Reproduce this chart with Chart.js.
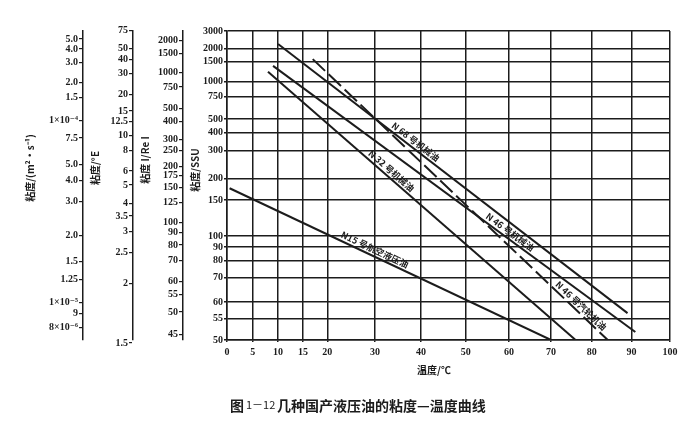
<!DOCTYPE html>
<html lang="zh">
<head>
<meta charset="UTF-8">
<title>几种国产液压油的粘度-温度曲线</title>
<script src="https://cdn.jsdelivr.net/npm/chart.js"></script>
<style>
  body { margin: 0; background: #fff; }
</style>
</head>
<body>
<canvas id="chart" width="697" height="428"></canvas>
<script>
  // ---- tick values of every scale ----
  const tempTicks = [0, 5, 10, 15, 20, 30, 40, 50, 60, 70, 80, 90, 100];
  const ssuTicks = [3000, 2000, 1500, 1000, 750, 500, 400, 300, 200, 150, 100, 90, 80, 70, 60, 55, 50];
  const m2sTicks = [5e-4, 4e-4, 3e-4, 2e-4, 1.5e-4, 1e-4, 7.5e-5, 5e-5, 4e-5, 3e-5, 2e-5, 1.5e-5, 1.25e-5, 1e-5, 9e-6, 8e-6];
  const m2sLabels = ['5.0', '4.0', '3.0', '2.0', '1.5', '1×10⁻⁴', '7.5', '5.0', '4.0', '3.0', '2.0', '1.5', '1.25', '1×10⁻⁵', '9', '8×10⁻⁶'];
  const englerTicks = [75, 50, 40, 30, 20, 15, 12.5, 10, 8, 6, 5, 4, 3.5, 3, 2.5, 2, 1.5];
  const redwoodTicks = [2000, 1500, 1000, 750, 500, 400, 300, 250, 200, 175, 150, 125, 100, 90, 80, 70, 60, 55, 50, 45];

  // ---- oils: temperature (°C) and viscosity (SSU) at the two ends of each line ----
  const oilNames = ['N 68 号机械油', 'N 46 号机械油', 'N 46 号汽轮机油', 'N 32 号机械油', 'N15 号航空液压油'];
  const n68Temp = [10, 89],  n68Ssu = [2220, 56.5];
  const n46Temp = [9, 91],   n46Ssu = [1380, 51.7];
  const n46tTemp = [17, 84], n46tSsu = [1590, 50];
  const n32Temp = [8, 76],   n32Ssu = [1220, 50];
  const n15Temp = [0.5, 70], n15Ssu = [175, 50];
  // where each line's name starts (°C)
  const noteTemps = [33, 54, 70.4, 28, 22.4];

  // ---- ASTM style transforms ----
  const xOf = t => Math.log10(t + 273.15);
  const lOf = v => Math.log10(Math.log10(v + 0.7));          // v in mm²/s
  function ssuFromCst(v) {
    return 4.6324 * v + (1 + 0.03264 * v) / ((3930.2 + 262.7 * v + 23.97 * v * v + 1.646 * v * v * v) * 1e-5);
  }
  function cstFromSsu(s) {
    let lo = 1, hi = s;
    for (let i = 0; i < 60; i++) {
      const mid = (lo + hi) / 2;
      if (ssuFromCst(mid) < s) lo = mid; else hi = mid;
    }
    return (lo + hi) / 2;
  }
  const yOfSsu = s => lOf(cstFromSsu(s));
  const cstFromEngler = e => 7.31 * e - 6.31 / e;
  const cstFromRedwood = r => 0.26 * r - 179 / r;

  const yMin = yOfSsu(50), yMax = yOfSsu(3000);
  // the printed side scales sit slightly higher than the grid
  const m2sShift = 0.005, englerShift = 0.012;

  const series = [
    { name: oilNames[0], temp: n68Temp, ssu: n68Ssu, dash: [], note: noteTemps[0] },
    { name: oilNames[1], temp: n46Temp, ssu: n46Ssu, dash: [], note: noteTemps[1] },
    { name: oilNames[2], temp: n46tTemp, ssu: n46tSsu, dash: [17, 5], note: noteTemps[2] },
    { name: oilNames[3], temp: n32Temp, ssu: n32Ssu, dash: [], note: noteTemps[3] },
    { name: oilNames[4], temp: n15Temp, ssu: n15Ssu, dash: [], note: noteTemps[4] }
  ];

  const ink = '#1c1c1c';
  const tickFont = { family: '"Liberation Serif", "DejaVu Serif", serif', size: 10, weight: 'bold' };
  const cjk = '"Noto Sans CJK SC", sans-serif';

  function setTicks(values, toL, labels) {
    return scale => {
      scale.ticks = values.map((v, i) => ({ value: toL(v), text: labels ? labels[i] : String(v) }));
    };
  }
  function sideAxis(values, toL, labels, shift, weight, width) {
    return {
      type: 'linear', position: 'left', weight: weight,
      min: yMin - shift, max: yMax - shift,
      afterBuildTicks: setTicks(values, toL, labels),
      afterFit: s => { s.width = width; },
      grid: { drawOnChartArea: false, color: ink, lineWidth: 1.2, tickLength: 4 },
      border: { color: ink, width: 1.5 },
      ticks: { autoSkip: false, padding: 1, color: ink, font: tickFont, callback: (v, i, t) => t[i].text }
    };
  }

  // line names written along the lines
  const lineNotes = {
    id: 'lineNotes',
    afterDatasetsDraw(chart) {
      const { ctx, scales: { x, y } } = chart;
      ctx.save();
      ctx.fillStyle = ink;
      ctx.font = 'bold 9px ' + cjk;
      ctx.textBaseline = 'bottom';
      series.forEach(s => {
        const x0 = x.getPixelForValue(xOf(s.temp[0])), y0 = y.getPixelForValue(yOfSsu(s.ssu[0]));
        const x1 = x.getPixelForValue(xOf(s.temp[1])), y1 = y.getPixelForValue(yOfSsu(s.ssu[1]));
        const xa = x.getPixelForValue(xOf(s.note));
        const ya = y0 + (xa - x0) * (y1 - y0) / (x1 - x0);
        ctx.save();
        ctx.translate(xa, ya);
        ctx.rotate(Math.atan2(y1 - y0, x1 - x0));
        ctx.fillText(s.name, 0, -2);
        ctx.restore();
      });
      ctx.restore();
    }
  };

  // axis titles and figure caption
  const titles = {
    id: 'titles',
    afterDraw(chart) {
      const { ctx, scales } = chart;
      ctx.save();
      ctx.fillStyle = ink;
      ctx.textAlign = 'center';
      ctx.textBaseline = 'middle';
      ctx.font = 'bold 10px ' + cjk;
      [['m2s', '粘度/(m²·s⁻¹)', 30, 168], ['engler', '粘度/°E', 12, 168],
       ['redwood', '粘度 I/Re I', 12, 160], ['y', '粘度/SSU', 12, 170]].forEach(([id, text, dx, cy]) => {
        ctx.save();
        ctx.translate(scales[id].left + dx, cy);
        ctx.rotate(-Math.PI / 2);
        ctx.fillText(text, 0, 0);
        ctx.restore();
      });
      ctx.fillText('温度/℃', 434, 370);

      ctx.textAlign = 'left';
      ctx.font = 'bold 14px ' + cjk;
      ctx.fillText('图', 230, 406);
      ctx.font = '11px ' + cjk;
      ctx.fillText('1－12', 246, 405);
      ctx.font = 'bold 14px ' + cjk;
      ctx.fillText('几种国产液压油的粘度—温度曲线', 277, 406);
      ctx.restore();
    }
  };

  new Chart(document.getElementById('chart'), {
    type: 'line',
    data: {
      datasets: series.map(s => ({
        label: s.name,
        data: s.temp.map((t, i) => ({ x: xOf(t), y: yOfSsu(s.ssu[i]) })),
        borderColor: ink,
        borderWidth: 2,
        borderDash: s.dash,
        pointRadius: 0,
        fill: false,
        tension: 0
      }))
    },
    options: {
      responsive: false,
      animation: false,
      devicePixelRatio: 1,
      layout: { padding: { left: 0, top: 31, right: 27, bottom: 0 } },
      plugins: { legend: { display: false }, tooltip: { enabled: false } },
      scales: {
        x: {
          type: 'linear', min: xOf(0), max: xOf(100),
          afterBuildTicks: setTicks(tempTicks, xOf),
          afterFit: s => { s.height = 88; },
          grid: { color: ink, lineWidth: 1.5, tickLength: 2 },
          border: { color: ink, width: 1.5 },
          ticks: { autoSkip: false, maxRotation: 0, padding: 4, color: ink, font: tickFont, callback: (v, i, t) => t[i].text }
        },
        y: {
          type: 'linear', position: 'left', weight: 0,
          min: yMin, max: yMax,
          afterBuildTicks: setTicks(ssuTicks, yOfSsu),
          afterFit: s => { s.width = 44; },
          grid: { color: ink, lineWidth: 1.5, tickLength: 3 },
          border: { color: ink, width: 1.5 },
          ticks: { autoSkip: false, padding: 1, color: ink, font: tickFont, callback: (v, i, t) => t[i].text }
        },
        redwood: sideAxis(redwoodTicks, r => lOf(cstFromRedwood(r)), null, 0, 1, 50),
        engler: sideAxis(englerTicks, e => lOf(cstFromEngler(e)), null, englerShift, 2, 50),
        m2s: sideAxis(m2sTicks, v => lOf(v * 1e6), m2sLabels, m2sShift, 3, 83)
      }
    },
    plugins: [lineNotes, titles]
  });
</script>
</body>
</html>
